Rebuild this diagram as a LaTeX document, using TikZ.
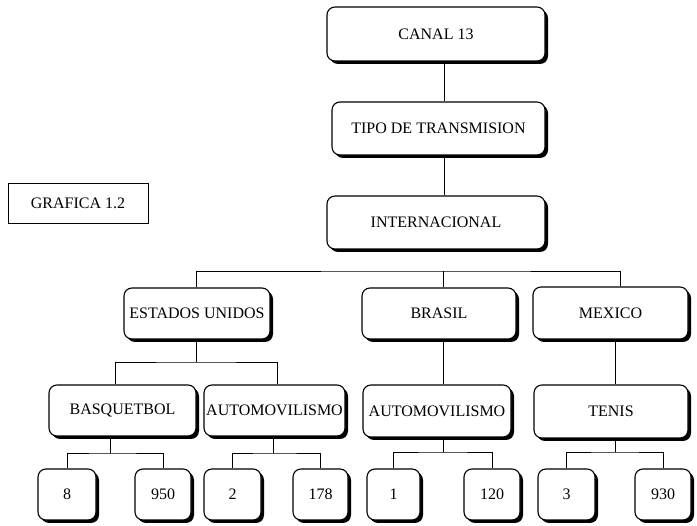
\documentclass[tikz,border=0pt]{standalone}
\usepackage{fontspec}
\setmainfont{Liberation Serif}
\usetikzlibrary{shadows}
\tikzset{
  box/.style={draw=black, line width=1.1pt, fill=white, rounded corners=8pt,
    inner sep=0pt, anchor=center,
    drop shadow={fill=black, opacity=1, shadow xshift=3pt, shadow yshift=-3pt},
    font=\fontsize{16}{18}\selectfont},
  plainbox/.style={draw=black, line width=0.9pt, fill=white, inner sep=0pt,
    anchor=center, font=\fontsize{16}{18}\selectfont},
  conn/.style={draw=black, line width=0.9pt}
}
\begin{document}
\begin{tikzpicture}[x=1pt, y=-1pt]
\useasboundingbox (0,0) rectangle (697,526);
% level 0-2
\node[box, minimum width=218pt, minimum height=54pt] (canal) at (436,34) {CANAL 13};
\node[box, minimum width=213pt, minimum height=53pt] (tipo) at (438.5,128.5) {TIPO DE TRANSMISION};
\node[box, minimum width=218pt, minimum height=53pt] (inter) at (436,222.5) {INTERNACIONAL};
\node[plainbox, minimum width=140pt, minimum height=40pt] (graf) at (78,203) {GRAFICA 1.2};
% countries
\node[box, minimum width=146pt, minimum height=51pt] (eu) at (197,313.5) {ESTADOS UNIDOS};
\node[box, minimum width=154pt, minimum height=51pt] (bra) at (439,313.5) {BRASIL};
\node[box, minimum width=155pt, minimum height=52pt] (mex) at (610.5,313) {MEXICO};
% sports
\node[box, minimum width=147pt, minimum height=51pt] (bas) at (122.5,410.5) {BASQUETBOL};
\node[box, minimum width=141pt, minimum height=51pt] (autoa) at (274.5,410.5) {AUTOMOVILISMO};
\node[box, minimum width=148pt, minimum height=52pt] (autob) at (437,411) {AUTOMOVILISMO};
\node[box, minimum width=154pt, minimum height=53pt] (ten) at (611,411.5) {TENIS};
% numbers
\node[box, minimum width=58pt, minimum height=51pt] (n8) at (67,494.5) {8};
\node[box, minimum width=56pt, minimum height=51pt] (n950) at (163,494.5) {950};
\node[box, minimum width=57pt, minimum height=51pt] (n2) at (232.5,494.5) {2};
\node[box, minimum width=55pt, minimum height=51pt] (n178) at (320.5,494.5) {178};
\node[box, minimum width=53pt, minimum height=51pt] (n1) at (393.5,494.5) {1};
\node[box, minimum width=56pt, minimum height=51pt] (n120) at (492,494.5) {120};
\node[box, minimum width=57pt, minimum height=51pt] (n3) at (566.5,494.5) {3};
\node[box, minimum width=56pt, minimum height=51pt] (n930) at (663,494.5) {930};
% junction coordinates
\coordinate (sp) at (444,0);
\coordinate (jtop) at (443,271);
\coordinate (jeu) at (196,362);
\coordinate (jbas) at (110,453);
\coordinate (jaa) at (273,453);
\coordinate (jab) at (443,452);
\coordinate (jten) at (615,452);
\coordinate (xmex) at (620,0);
\coordinate (xbas) at (115,0);
\coordinate (xaa) at (277,0);
% connectors
\begin{scope}[on background layer/.style={}]
\draw[conn] (canal.south -| sp) -- (tipo.north -| sp);
\draw[conn] (tipo.south -| sp) -- (inter.north -| sp);
\draw[conn] (eu.north -| jeu) |- (jtop) -| (mex.north -| xmex);
\draw[conn] (bra.north -| jtop) -- (jtop);
\draw[conn] (eu.south -| jeu) -- (jeu);
\draw[conn] (bas.north -| xbas) |- (jeu) -| (autoa.north -| xaa);
\draw[conn] (bra.south -| jab) -- (autob.north -| jab);
\draw[conn] (mex.south -| jten) -- (ten.north -| jten);
\draw[conn] (bas.south -| jbas) -- (jbas);
\draw[conn] (n8.north) |- (jbas) -| (n950.north);
\draw[conn] (autoa.south -| jaa) -- (jaa);
\draw[conn] (n2.north) |- (jaa) -| (n178.north);
\draw[conn] (autob.south -| jab) -- (jab);
\draw[conn] (n1.north) |- (jab) -| (n120.north);
\draw[conn] (ten.south -| jten) -- (jten);
\draw[conn] (n3.north) |- (jten) -| (n930.north);
\end{scope}
\end{tikzpicture}
\end{document}
